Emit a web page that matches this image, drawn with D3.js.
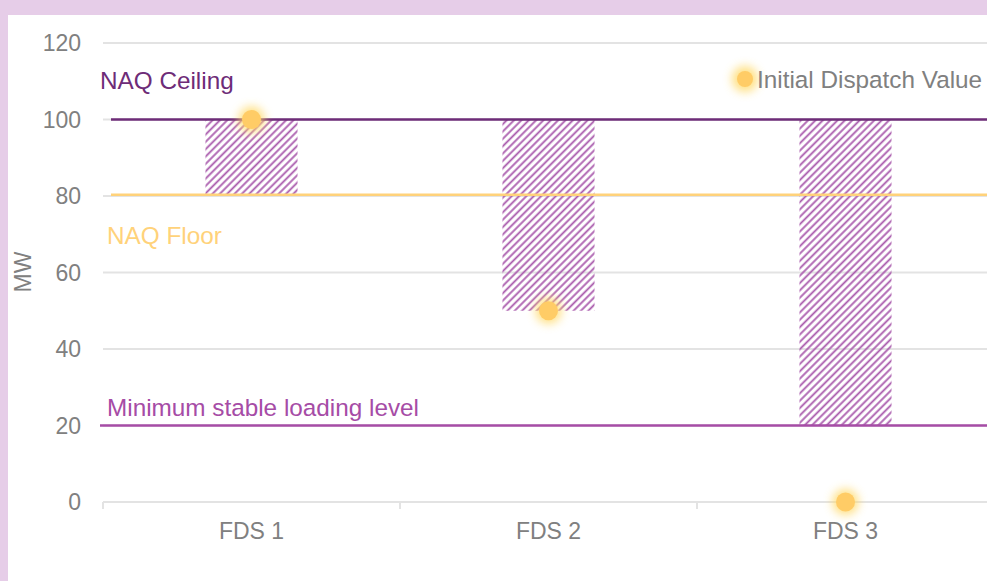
<!DOCTYPE html>
<html>
<head>
<meta charset="utf-8">
<script src="https://cdn.jsdelivr.net/npm/d3@7"></script>
<style>
  html, body { margin: 0; padding: 0; background: #e6cde8; }
  svg { display: block; font-family: "Liberation Sans", Arial, sans-serif; }
</style>
</head>
<body>
<svg id="chart" width="987" height="581"></svg>
<script>
const categories   = ['FDS 1', 'FDS 2', 'FDS 3'];
const rangeLow     = [80, 50, 20];
const rangeHigh    = [100, 100, 100];
const dispatch     = [100, 50, 0];
const yTicks       = [0, 20, 40, 60, 80, 100, 120];
const refLines     = [
  {name: 'NAQ Ceiling', value: 100, color: '#6e2c78', text: '#6e2c78', x0: 111, lx: 100, ly: 89},
  {name: 'NAQ Floor', value: 80.3, color: '#ffd27a', text: '#ffd27a', x0: 111, lx: 107, ly: 244},
  {name: 'Minimum stable loading level', value: 20, color: '#a64ca6', text: '#a64ca6', x0: 100, lx: 107, ly: 416},
];

const W = 987, H = 581;
const svg = d3.select('#chart');

// panel
svg.append('rect').attr('x', 8).attr('y', 15).attr('width', W - 8).attr('height', H - 15).attr('fill', '#fff');

const defs = svg.append('defs');
const pat = defs.append('pattern')
  .attr('id', 'hatch')
  .attr('patternUnits', 'userSpaceOnUse')
  .attr('width', 5.2).attr('height', 5.2)
  .attr('patternTransform', 'rotate(45)');
pat.append('line').attr('x1', 1.3).attr('y1', 0).attr('x2', 1.3).attr('y2', 5.2)
  .attr('stroke', '#a95aac').attr('stroke-width', 1.8);

const glow = defs.append('filter').attr('id', 'glow')
  .attr('x', '-100%').attr('y', '-100%').attr('width', '300%').attr('height', '300%');
glow.append('feGaussianBlur').attr('stdDeviation', 5);

const x = d3.scaleBand().domain(categories).range([103, 994]).padding(0);
const y = d3.scaleLinear().domain([0, 120]).range([502, 43]);
const barW = x.bandwidth() * 0.31;

// gridlines
svg.append('g').selectAll('line').data(yTicks).join('line')
  .attr('x1', 103).attr('x2', W)
  .attr('y1', d => y(d)).attr('y2', d => y(d))
  .attr('stroke', '#e3e3e3').attr('stroke-width', 2);

// y tick labels
svg.append('g').selectAll('text').data(yTicks).join('text')
  .attr('x', 81).attr('y', d => y(d))
  .attr('dy', '0.35em')
  .attr('text-anchor', 'end')
  .attr('fill', '#808080').attr('font-size', 23)
  .text(d => d);

// x axis ticks at band boundaries
const bounds = categories.map(c => x(c)).concat([x(categories[2]) + x.bandwidth()]);
svg.append('g').selectAll('line').data(bounds).join('line')
  .attr('x1', d => d).attr('x2', d => d)
  .attr('y1', y(0)).attr('y2', y(0) + 7)
  .attr('stroke', '#e3e3e3').attr('stroke-width', 2);

svg.append('g').selectAll('text').data(categories).join('text')
  .attr('x', d => x(d) + x.bandwidth() / 2)
  .attr('y', 539)
  .attr('text-anchor', 'middle')
  .attr('fill', '#808080').attr('font-size', 23)
  .text(d => d);

svg.append('text')
  .attr('transform', 'translate(31, 272) rotate(-90)')
  .attr('text-anchor', 'middle')
  .attr('fill', '#808080').attr('font-size', 23)
  .text('MW');

// hatched range bars
svg.append('g').selectAll('rect').data(categories).join('rect')
  .attr('x', d => x(d) + (x.bandwidth() - barW) / 2)
  .attr('y', (d, i) => y(rangeHigh[i]))
  .attr('width', barW)
  .attr('height', (d, i) => y(rangeLow[i]) - y(rangeHigh[i]))
  .attr('fill', 'url(#hatch)');

// reference lines + labels
refLines.forEach(r => {
  svg.append('line')
    .attr('x1', r.x0).attr('x2', W)
    .attr('y1', y(r.value)).attr('y2', y(r.value))
    .attr('stroke', r.color).attr('stroke-width', 2.5);
  svg.append('text')
    .attr('x', r.lx).attr('y', r.ly)
    .attr('fill', r.text).attr('font-size', 24.3)
    .text(r.name);
});

// dispatch points
const dots = svg.append('g');
dots.selectAll('circle.g').data(categories).join('circle')
  .attr('cx', d => x(d) + x.bandwidth() / 2)
  .attr('cy', (d, i) => y(dispatch[i]))
  .attr('r', 13)
  .attr('fill', '#ffd966').attr('opacity', 0.8)
  .attr('filter', 'url(#glow)');
dots.selectAll('circle.d').data(categories).join('circle')
  .attr('cx', d => x(d) + x.bandwidth() / 2)
  .attr('cy', (d, i) => y(dispatch[i]))
  .attr('r', 9.5)
  .attr('fill', '#ffcc66');

// legend
const lg = svg.append('g').attr('transform', 'translate(745, 79)');
lg.append('circle').attr('r', 13).attr('fill', '#ffd966').attr('opacity', 0.8).attr('filter', 'url(#glow)');
lg.append('circle').attr('r', 8).attr('fill', '#ffcc66');
lg.append('text').attr('x', 12).attr('dy', '0.35em')
  .attr('fill', '#808080').attr('font-size', 24.3)
  .text('Initial Dispatch Value');
</script>
</body>
</html>
